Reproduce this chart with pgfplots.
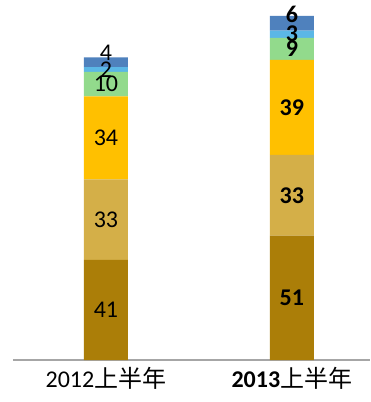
\documentclass[border=0pt]{standalone}
\usepackage{fontspec}
\setmainfont{Carlito}
\newfontfamily\cjk{Noto Sans CJK SC}
\usepackage{pgfplots}
\pgfplotsset{compat=1.18}
\definecolor{c1}{RGB}{171,126,8}
\definecolor{c2}{RGB}{212,175,72}
\definecolor{c3}{RGB}{255,192,0}
\definecolor{c4}{RGB}{146,218,140}
\definecolor{c5}{RGB}{91,183,230}
\definecolor{c6}{RGB}{79,129,189}
\begin{document}
\begin{tikzpicture}
\path[use as bounding box] (-13pt,-42pt) rectangle (357pt,360pt);
\begin{axis}[
  at={(0,0)}, anchor=south west,
  scale only axis, width=357pt, height=360pt,
  xmin=-0.5, xmax=1.42, ymin=0, ymax=147.5,
  ybar stacked, bar width=44pt,
  axis x line*=bottom, axis y line=none,
  axis line style={draw=black!35, line width=1.2pt},
  x axis line style={-},
  xtick={0,1}, xticklabels={2012{\cjk 上半年}, \textbf{2013}{\cjk 上半年}},
  major tick length=0pt,
  xticklabel style={font=\fontsize{24}{28}\selectfont, anchor=base, yshift=-27pt},
  visualization depends on=rawy \as \rawy,
  visualization depends on=rawx \as \rawx,
  nodes near coords={\pgfmathtruncatemacro\v{\rawy}\ifdim\rawx pt>0.5pt\textbf{\v}\else\v\fi},
  every node near coord/.append style={anchor=center, font=\fontsize{24}{28}\selectfont, inner sep=0pt, black},
  clip=false,
]
\addplot[fill=c1, draw=none] coordinates {(0,41) (1,51)};
\addplot[fill=c2, draw=none] coordinates {(0,33) (1,33)};
\addplot[fill=c3, draw=none] coordinates {(0,34) (1,39)};
\addplot[fill=c4, draw=none] coordinates {(0,10) (1,9)};
\addplot[fill=c5, draw=none] coordinates {(0,2) (1,3)};
\addplot[fill=c6, draw=none, every node near coord/.append style={yshift=9pt}] coordinates {(0,4) (1,6)};
\end{axis}
\end{tikzpicture}
\end{document}
